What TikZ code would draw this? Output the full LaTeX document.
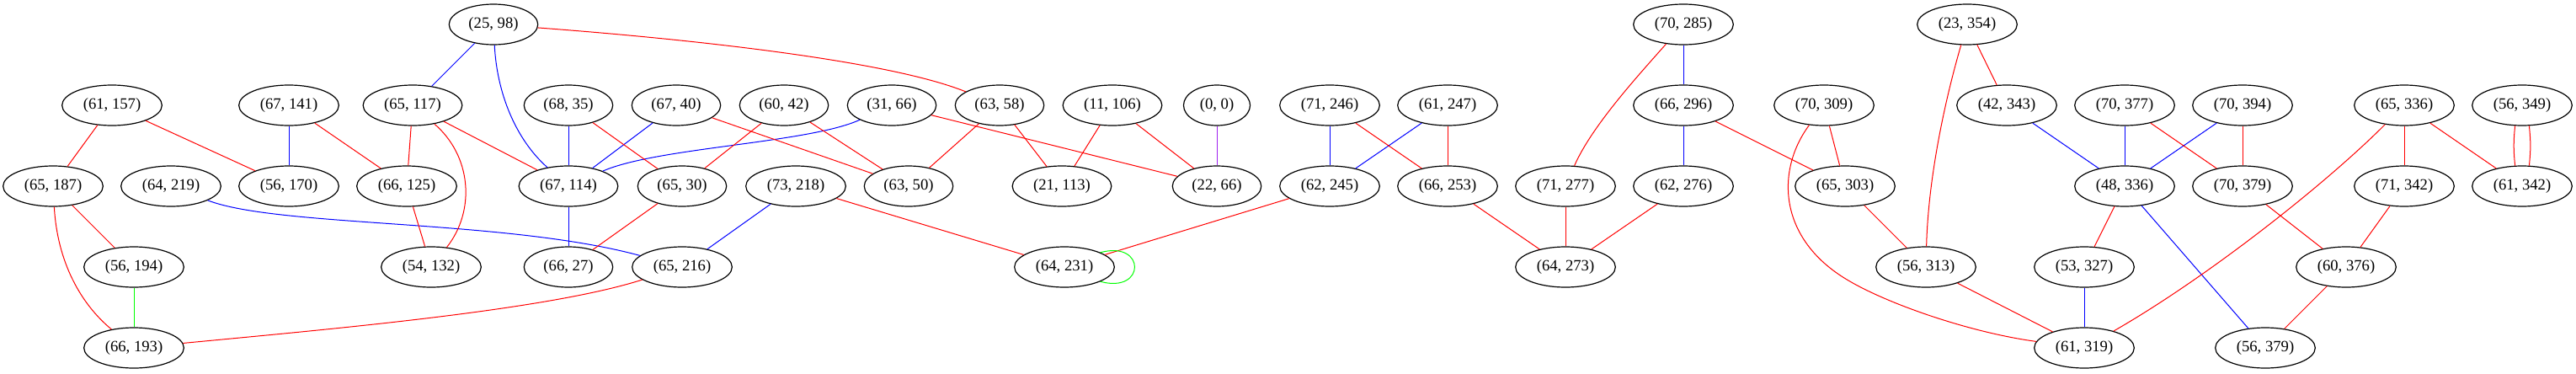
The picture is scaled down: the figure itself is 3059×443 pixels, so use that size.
\documentclass[tikz,border=0pt]{standalone}
\usepackage{fontspec}
\setmainfont{Liberation Serif}
\usetikzlibrary{shapes.geometric}
\definecolor{gvgreen}{HTML}{00FF00}
\definecolor{gvpurple}{HTML}{A020F0}

\begin{document}
\begin{tikzpicture}[x=0.75pt, y=-0.75pt,
		pair/.style={ellipse, draw, line width=0.9pt, minimum height=36pt, inner xsep=5.8pt, inner ysep=2pt, font=\fontsize{14}{16}\selectfont},
		link/.style={line width=0.75pt}]
		\useasboundingbox (0,0) rectangle (3059,443);
		
		% Draw pair nodes, row by row
		\foreach \a/\b/\x in {25/98/586, 70/285/1999, 23/354/2336} {
			\node[pair] (n\a x\b) at (\x,29) {(\a, \b)};
		}
		\foreach \a/\b/\x in {61/157/133, 67/141/343, 65/117/490, 68/35/675, 67/40/803, 60/42/931, 31/66/1059, 63/58/1187, 11/106/1321, 0/0/1445, 71/246/1579, 61/247/1719, 66/296/1999, 70/309/2166, 42/343/2383, 70/377/2523, 70/394/2663, 65/336/2855, 56/349/2995} {
			\node[pair] (n\a x\b) at (\x,125) {(\a, \b)};
		}
		\foreach \a/\b/\x in {65/187/63, 64/219/203, 56/170/343, 66/125/483, 67/114/675, 65/30/810, 73/218/945, 63/50/1079, 21/113/1261, 22/66/1445, 62/245/1579, 66/253/1719, 71/277/1859, 62/276/1999, 65/303/2191, 48/336/2523, 70/379/2663, 71/342/2855, 61/342/2995} {
			\node[pair] (n\a x\b) at (\x,221) {(\a, \b)};
		}
		\foreach \a/\b/\x in {56/194/159, 54/132/512, 66/27/675, 65/216/810, 64/231/1264, 64/273/1859, 56/313/2287, 53/327/2475, 60/376/2786} {
			\node[pair] (n\a x\b) at (\x,317) {(\a, \b)};
		}
		\foreach \a/\b/\x in {66/193/159, 61/319/2475, 56/379/2690} {
			\node[pair] (n\a x\b) at (\x,413) {(\a, \b)};
		}
		
		% Blue edges
		\draw[link, blue] (n25x98) -- (n65x117);
		\draw[link, blue] (n25x98) .. controls (590,110) and (612,165) .. (n67x114);
		\draw[link, blue] (n67x141) -- (n56x170);
		\draw[link, blue] (n68x35) -- (n67x114);
		\draw[link, blue] (n67x40) -- (n67x114);
		\draw[link, blue] (n31x66) .. controls (960,170) and (780,175) .. (n67x114);
		\draw[link, blue] (n67x114) -- (n66x27);
		\draw[link, blue] (n64x219) .. controls (330,270) and (600,260) .. (n65x216);
		\draw[link, blue] (n73x218) -- (n65x216);
		\draw[link, blue] (n71x246) -- (n62x245);
		\draw[link, blue] (n61x247) -- (n62x245);
		\draw[link, blue] (n70x285) -- (n66x296);
		\draw[link, blue] (n66x296) -- (n62x276);
		\draw[link, blue] (n42x343) -- (n48x336);
		\draw[link, blue] (n70x377) -- (n48x336);
		\draw[link, blue] (n70x394) -- (n48x336);
		\draw[link, blue] (n48x336) -- (n56x379);
		\draw[link, blue] (n53x327) -- (n61x319);
		
		% Red edges
		\draw[link, red] (n25x98) .. controls (800,45) and (1050,70) .. (n63x58);
		\draw[link, red] (n61x157) -- (n65x187);
		\draw[link, red] (n61x157) -- (n56x170);
		\draw[link, red] (n67x141) -- (n66x125);
		\draw[link, red] (n65x117) -- (n66x125);
		\draw[link, red] (n65x117) -- (n67x114);
		\draw[link, red] (n65x117) .. controls (560,185) and (565,250) .. (n54x132);
		\draw[link, red] (n68x35) -- (n65x30);
		\draw[link, red] (n67x40) -- (n63x50);
		\draw[link, red] (n60x42) -- (n65x30);
		\draw[link, red] (n60x42) -- (n63x50);
		\draw[link, red] (n31x66) -- (n22x66);
		\draw[link, red] (n63x58) -- (n63x50);
		\draw[link, red] (n63x58) -- (n21x113);
		\draw[link, red] (n11x106) -- (n21x113);
		\draw[link, red] (n11x106) -- (n22x66);
		\draw[link, red] (n65x187) -- (n56x194);
		\draw[link, red] (n65x187) .. controls (68,310) and (95,360) .. (n66x193);
		\draw[link, red] (n66x125) -- (n54x132);
		\draw[link, red] (n65x30) -- (n66x27);
		\draw[link, red] (n65x216) .. controls (650,368) and (400,390) .. (n66x193);
		\draw[link, red] (n73x218) -- (n64x231);
		\draw[link, red] (n62x245) -- (n64x231);
		\draw[link, red] (n71x246) -- (n66x253);
		\draw[link, red] (n61x247) -- (n66x253);
		\draw[link, red] (n70x285) .. controls (1945,90) and (1890,150) .. (n71x277);
		\draw[link, red] (n66x296) -- (n65x303);
		\draw[link, red] (n70x309) -- (n65x303);
		\draw[link, red] (n70x309) .. controls (2110,200) and (2110,280) .. (2190,330) .. controls (2238,360) and (2340,395) .. (n61x319);
		\draw[link, red] (n66x253) -- (n64x273);
		\draw[link, red] (n71x277) -- (n64x273);
		\draw[link, red] (n62x276) -- (n64x273);
		\draw[link, red] (n65x303) -- (n56x313);
		\draw[link, red] (n23x354) .. controls (2315,100) and (2290,200) .. (n56x313);
		\draw[link, red] (n23x354) -- (n42x343);
		\draw[link, red] (n70x377) -- (n70x379);
		\draw[link, red] (n70x394) -- (n70x379);
		\draw[link, red] (n65x336) -- (n71x342);
		\draw[link, red] (n65x336) -- (n61x342);
		\draw[link, red] (n65x336) .. controls (2760,220) and (2620,330) .. (n61x319);
		\draw[link, red] (n56x349.-109) to[bend right=6] (n61x342.109);
		\draw[link, red] (n56x349.-71) to[bend left=6] (n61x342.71);
		\draw[link, red] (n48x336) -- (n53x327);
		\draw[link, red] (n70x379) -- (n60x376);
		\draw[link, red] (n71x342) -- (n60x376);
		\draw[link, red] (n56x313) -- (n61x319);
		\draw[link, red] (n60x376) -- (n56x379);
		
		% Green and purple edges
		\draw[link, gvgreen] (n56x194) -- (n66x193);
		\draw[link, gvgreen] (n64x231.22) .. controls (1361,285) and (1361,349) .. (n64x231.-22);
		\draw[link, gvpurple] (n0x0) -- (n22x66);
	\end{tikzpicture}
\end{document}
